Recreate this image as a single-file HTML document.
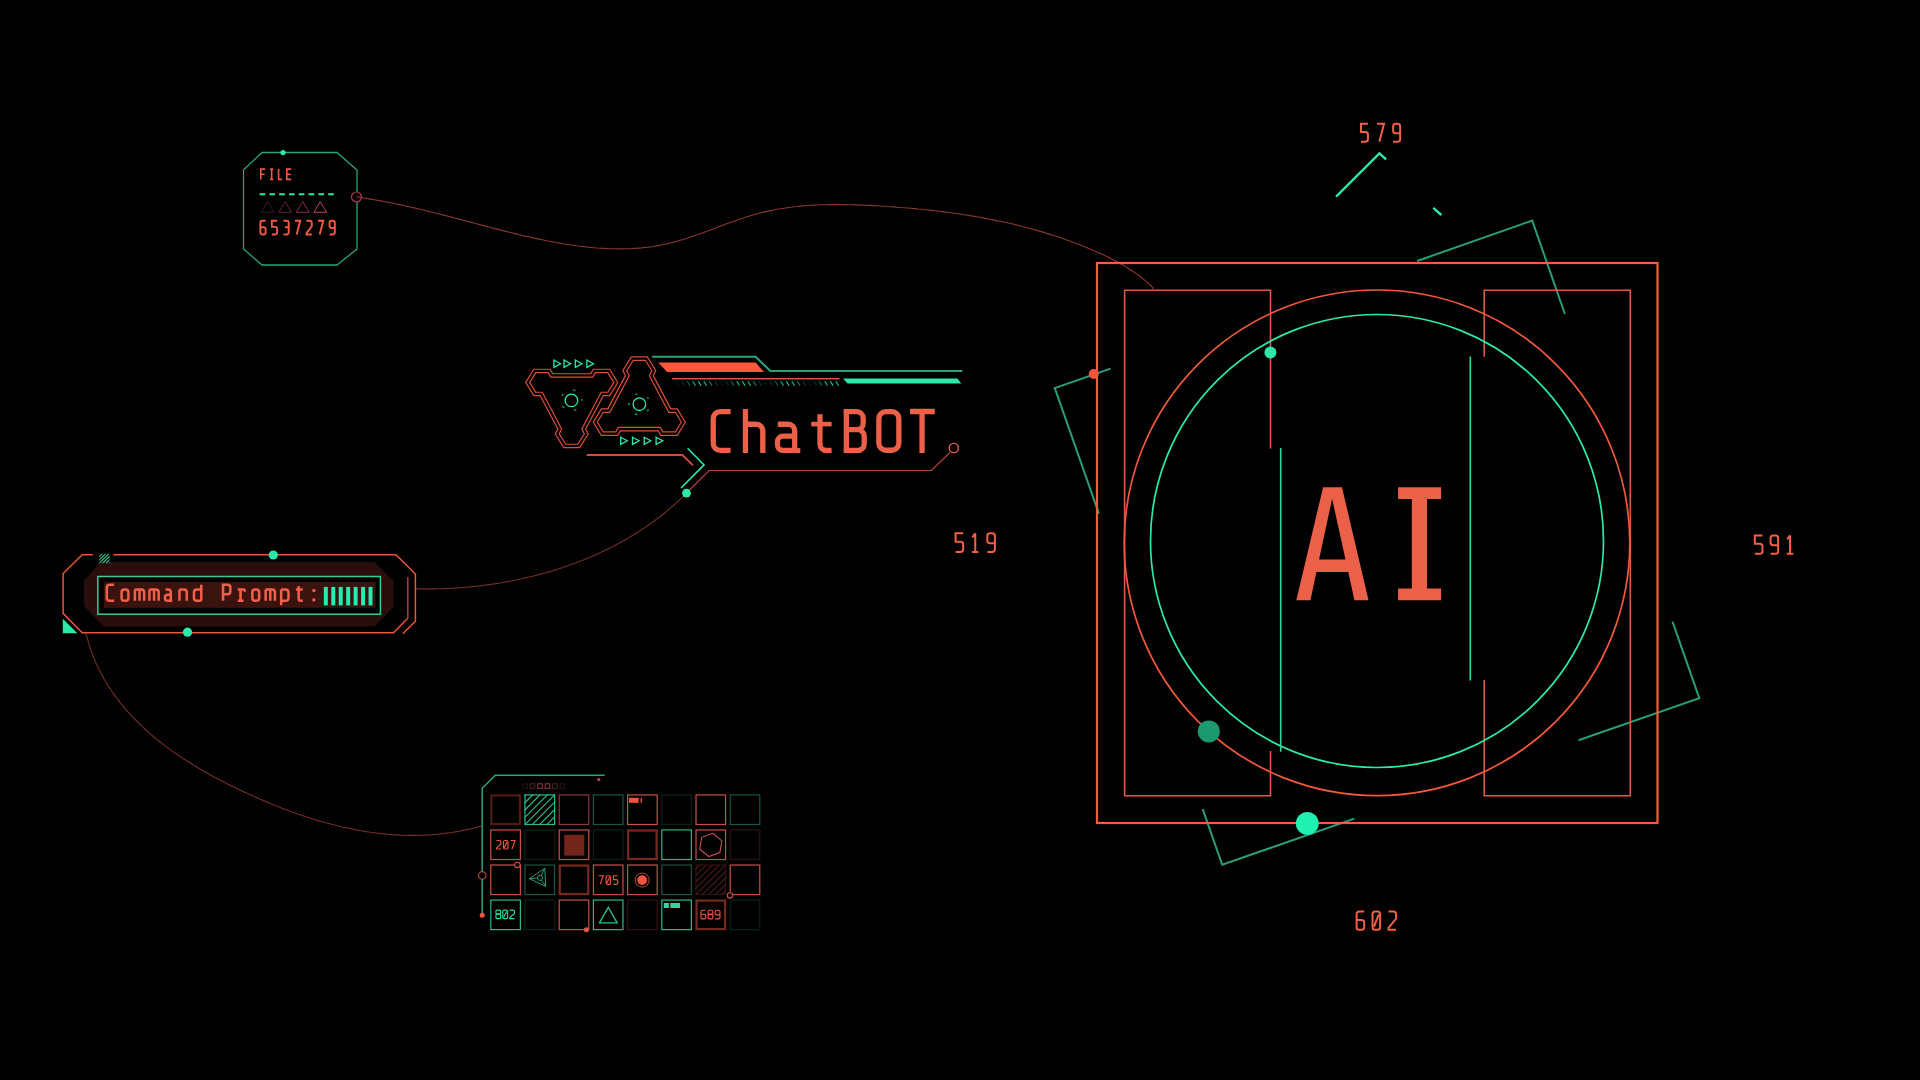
<!DOCTYPE html><html><head><meta charset="utf-8"><style>html,body{margin:0;padding:0;background:#000;width:1920px;height:1080px;overflow:hidden;}svg{position:absolute;left:0;top:0;display:block;}text{font-family:"Liberation Mono",monospace;white-space:pre;}</style></head><body>
<svg width="1920" height="1080" viewBox="0 0 1920 1080">
<rect width="1920" height="1080" fill="#000"/>
<g fill="none" stroke-width="1.1">
<path d="M357.0,197.0 L357.0,197.1 L360.4,197.5 L363.8,198.0 L367.2,198.6 L370.6,199.1 L374.0,199.7 L377.4,200.3 L380.8,200.9 L384.2,201.5 L387.6,202.2 L391.0,202.8 L394.3,203.5 L397.7,204.2 L401.1,204.9 L404.5,205.7 L407.8,206.4 L411.2,207.2 L414.5,207.9 L417.9,208.7 L421.2,209.5 L424.6,210.3 L427.9,211.2 L431.3,212.0 L434.6,212.8 L438.0,213.7 L441.3,214.5 L444.7,215.4 L448.0,216.2 L451.4,217.1 L454.7,218.0 L458.1,218.9 L461.4,219.8 L464.8,220.6 L468.1,221.5 L471.5,222.4 L474.8,223.3 L478.2,224.2 L481.5,225.1 L484.9,225.9 L488.2,226.8 L491.6,227.7 L494.9,228.6 L498.3,229.4 L501.7,230.3 L505.0,231.1 L508.4,232.0 L511.8,232.8 L515.2,233.6 L518.5,234.5 L521.9,235.3 L525.3,236.1 L528.7,236.8 L532.1,237.6 L535.5,238.4 L538.9,239.1 L542.3,239.8 L545.7,240.5 L549.1,241.2 L552.6,241.8 L556.0,242.5 L559.4,243.1 L562.8,243.7 L566.2,244.2 L569.6,244.8 L573.1,245.3 L576.5,245.8 L579.9,246.2 L583.3,246.6 L586.7,247.0 L590.1,247.4 L593.6,247.7 L597.0,248.0 L600.4,248.2 L603.8,248.4 L607.2,248.6 L610.6,248.7 L614.0,248.8 L617.4,248.9 L620.8,248.9 L624.2,248.8 L627.6,248.7 L631.0,248.6 L634.4,248.4 L637.8,248.2 L641.1,247.9 L644.5,247.5 L647.9,247.1 L651.3,246.7 L654.6,246.2 L658.0,245.6 L661.3,245.0 L664.6,244.3 L668.0,243.6 L671.3,242.8 L674.6,241.9 L677.9,241.0 L681.3,240.0 L684.6,239.0 L687.9,237.9 L691.2,236.8 L694.4,235.7 L697.7,234.6 L701.0,233.4 L704.3,232.2 L707.6,231.0 L710.9,229.7 L714.2,228.5 L717.4,227.3 L720.7,226.0 L724.0,224.8 L727.3,223.6 L730.6,222.4 L733.9,221.2 L737.2,220.0 L740.5,218.9 L743.8,217.8 L747.1,216.8 L750.4,215.7 L753.7,214.8 L757.0,213.8 L760.4,213.0 L763.7,212.1 L767.1,211.4 L770.4,210.6 L773.8,210.0 L777.1,209.3 L780.5,208.8 L783.9,208.2 L787.2,207.7 L790.6,207.3 L794.0,206.8 L797.4,206.5 L800.8,206.1 L804.2,205.8 L807.6,205.6 L811.0,205.3 L814.4,205.1 L817.9,205.0 L821.3,204.8 L824.7,204.7 L828.1,204.6 L831.6,204.6 L835.0,204.6 L838.4,204.6 L841.9,204.6 L845.3,204.6 L848.8,204.7 L852.2,204.8 L855.7,204.9 L859.1,205.0 L862.6,205.1 L866.0,205.3 L869.5,205.4 L873.0,205.6 L876.4,205.8 L879.9,206.0 L883.3,206.2 L886.8,206.5 L890.3,206.7 L893.7,206.9 L897.2,207.2 L900.7,207.5 L904.1,207.7 L907.6,208.0 L911.1,208.3 L914.5,208.6 L918.0,209.0 L921.4,209.3 L924.9,209.7 L928.4,210.0 L931.8,210.4 L935.3,210.8 L938.7,211.2 L942.2,211.6 L945.6,212.1 L949.1,212.5 L952.5,213.0 L956.0,213.5 L959.4,214.0 L962.8,214.5 L966.3,215.0 L969.7,215.6 L973.1,216.1 L976.5,216.7 L979.9,217.3 L983.4,217.9 L986.8,218.6 L990.2,219.2 L993.6,219.9 L996.9,220.6 L1000.3,221.3 L1003.7,222.0 L1007.1,222.8 L1010.5,223.5 L1013.8,224.3 L1017.2,225.1 L1020.5,226.0 L1023.9,226.8 L1027.2,227.7 L1030.5,228.6 L1033.8,229.5 L1037.2,230.4 L1040.5,231.4 L1043.8,232.4 L1047.0,233.4 L1050.3,234.4 L1053.6,235.4 L1056.9,236.5 L1060.1,237.6 L1063.4,238.7 L1066.6,239.9 L1069.8,241.0 L1073.1,242.2 L1076.3,243.5 L1079.5,244.7 L1082.7,246.0 L1085.8,247.3 L1089.0,248.6 L1092.2,249.9 L1095.3,251.3 L1098.4,252.7 L1101.6,254.1 L1104.7,255.6 L1107.8,257.1 L1110.8,258.6 L1113.9,260.2 L1116.9,261.8 L1119.9,263.4 L1122.9,265.1 L1125.9,266.9 L1128.8,268.7 L1131.7,270.5 L1134.5,272.5 L1137.3,274.4 L1140.1,276.5 L1142.8,278.6 L1145.4,280.8 L1148.0,283.1 L1150.6,285.5 L1153.1,287.9 L1152.2,288.8" stroke="#8a382e"/>
<path d="M415.5,588.0 L415.7,588.8 L416.9,588.8 L418.1,588.9 L419.3,588.9 L420.5,588.9 L421.7,588.9 L422.9,588.9 L424.1,588.9 L425.3,588.9 L426.6,588.9 L427.8,588.9 L429.0,588.9 L430.2,588.9 L431.4,588.9 L432.6,588.9 L433.9,588.9 L435.1,588.9 L436.3,588.8 L437.5,588.8 L438.7,588.8 L440.0,588.8 L441.2,588.7 L442.4,588.7 L443.6,588.6 L444.8,588.6 L446.1,588.5 L447.3,588.5 L448.5,588.4 L449.7,588.4 L451.0,588.3 L452.2,588.2 L453.4,588.2 L454.7,588.1 L455.9,588.0 L457.1,587.9 L458.3,587.8 L459.6,587.8 L460.8,587.7 L462.0,587.6 L463.2,587.5 L464.5,587.4 L465.7,587.3 L466.9,587.2 L468.2,587.1 L469.4,586.9 L470.6,586.8 L471.8,586.7 L473.1,586.6 L474.3,586.4 L475.5,586.3 L476.8,586.2 L478.0,586.0 L479.2,585.9 L480.5,585.8 L481.7,585.6 L482.9,585.5 L484.1,585.3 L485.4,585.1 L486.6,585.0 L487.8,584.8 L489.1,584.6 L490.3,584.5 L491.5,584.3 L492.7,584.1 L494.0,583.9 L495.2,583.7 L496.4,583.5 L497.6,583.4 L498.9,583.2 L500.1,583.0 L501.3,582.7 L502.5,582.5 L503.8,582.3 L505.0,582.1 L506.2,581.9 L507.4,581.7 L508.7,581.4 L509.9,581.2 L511.1,581.0 L512.3,580.7 L513.5,580.5 L514.8,580.3 L516.0,580.0 L517.2,579.8 L518.4,579.5 L519.6,579.2 L520.9,579.0 L522.1,578.7 L523.3,578.4 L524.5,578.2 L525.7,577.9 L526.9,577.6 L528.1,577.3 L529.3,577.0 L530.6,576.7 L531.8,576.5 L533.0,576.2 L534.2,575.9 L535.4,575.5 L536.6,575.2 L537.8,574.9 L539.0,574.6 L540.2,574.3 L541.4,574.0 L542.6,573.6 L543.8,573.3 L545.0,573.0 L546.2,572.6 L547.4,572.3 L548.6,571.9 L549.8,571.6 L551.0,571.2 L552.2,570.9 L553.3,570.5 L554.5,570.1 L555.7,569.8 L556.9,569.4 L558.1,569.0 L559.3,568.6 L560.5,568.3 L561.6,567.9 L562.8,567.5 L564.0,567.1 L565.2,566.7 L566.3,566.3 L567.5,565.9 L568.7,565.5 L569.9,565.0 L571.0,564.6 L572.2,564.2 L573.4,563.8 L574.5,563.3 L575.7,562.9 L576.8,562.5 L578.0,562.0 L579.2,561.6 L580.3,561.1 L581.5,560.7 L582.6,560.2 L583.8,559.8 L584.9,559.3 L586.1,558.8 L587.2,558.3 L588.4,557.9 L589.5,557.4 L590.6,556.9 L591.8,556.4 L592.9,555.9 L594.0,555.4 L595.2,554.9 L596.3,554.4 L597.4,553.9 L598.6,553.4 L599.7,552.9 L600.8,552.4 L601.9,551.8 L603.0,551.3 L604.2,550.8 L605.3,550.2 L606.4,549.7 L607.5,549.2 L608.6,548.6 L609.7,548.1 L610.8,547.5 L611.9,546.9 L613.0,546.4 L614.1,545.8 L615.2,545.2 L616.3,544.7 L617.4,544.1 L618.4,543.5 L619.5,542.9 L620.6,542.3 L621.7,541.7 L622.8,541.1 L623.8,540.5 L624.9,539.9 L626.0,539.3 L627.1,538.7 L628.1,538.1 L629.2,537.4 L630.2,536.8 L631.3,536.2 L632.3,535.5 L633.4,534.9 L634.4,534.2 L635.5,533.6 L636.5,532.9 L637.6,532.3 L638.6,531.6 L639.6,531.0 L640.7,530.3 L641.7,529.6 L642.7,528.9 L643.8,528.2 L644.8,527.6 L645.8,526.9 L646.8,526.2 L647.8,525.5 L648.8,524.8 L649.8,524.1 L650.8,523.4 L651.8,522.6 L652.8,521.9 L653.8,521.2 L654.8,520.5 L655.8,519.7 L656.8,519.0 L657.8,518.3 L658.8,517.5 L659.7,516.8 L660.7,516.0 L661.7,515.2 L662.6,514.5 L663.6,513.7 L664.6,512.9 L665.5,512.2 L666.5,511.4 L667.4,510.6 L668.4,509.8 L669.3,509.0 L670.3,508.2 L671.2,507.4 L672.1,506.6 L673.1,505.8 L674.0,505.0 L674.9,504.2 L675.8,503.4 L676.7,502.5 L677.7,501.7 L678.6,500.9 L679.5,500.0 L680.4,499.2 L681.3,498.3 L682.2,497.5 L683.1,496.6 L683.9,495.8 L684.8,494.9 L685.7,494.0 L686.6,493.1 L686.5,493.0" stroke="#743026"/>
<path d="M86.7,632.5 L85.8,632.2 L86.2,634.3 L86.8,636.4 L87.3,638.4 L87.9,640.4 L88.4,642.4 L89.0,644.4 L89.7,646.4 L90.3,648.3 L91.0,650.3 L91.7,652.2 L92.4,654.1 L93.1,656.0 L93.9,657.9 L94.6,659.8 L95.4,661.6 L96.2,663.5 L97.1,665.3 L97.9,667.1 L98.8,668.9 L99.7,670.7 L100.6,672.5 L101.5,674.2 L102.5,676.0 L103.4,677.7 L104.4,679.5 L105.4,681.2 L106.4,682.9 L107.5,684.6 L108.5,686.2 L109.6,687.9 L110.7,689.5 L111.8,691.2 L112.9,692.8 L114.0,694.4 L115.2,696.0 L116.3,697.6 L117.5,699.2 L118.7,700.7 L119.9,702.3 L121.1,703.8 L122.4,705.3 L123.6,706.8 L124.9,708.3 L126.2,709.8 L127.5,711.3 L128.8,712.8 L130.1,714.2 L131.4,715.7 L132.8,717.1 L134.1,718.5 L135.5,719.9 L136.9,721.3 L138.3,722.7 L139.7,724.1 L141.1,725.4 L142.5,726.8 L144.0,728.1 L145.4,729.5 L146.9,730.8 L148.4,732.1 L149.8,733.4 L151.3,734.7 L152.8,736.0 L154.3,737.2 L155.9,738.5 L157.4,739.8 L158.9,741.0 L160.5,742.2 L162.0,743.4 L163.6,744.7 L165.2,745.9 L166.8,747.0 L168.3,748.2 L169.9,749.4 L171.6,750.6 L173.2,751.7 L174.8,752.9 L176.4,754.0 L178.1,755.1 L179.7,756.2 L181.4,757.4 L183.0,758.5 L184.7,759.5 L186.4,760.6 L188.1,761.7 L189.8,762.8 L191.5,763.8 L193.2,764.9 L194.9,765.9 L196.6,767.0 L198.3,768.0 L200.0,769.0 L201.8,770.0 L203.5,771.0 L205.3,772.0 L207.0,773.0 L208.8,774.0 L210.5,775.0 L212.3,775.9 L214.1,776.9 L215.9,777.9 L217.6,778.8 L219.4,779.7 L221.2,780.7 L223.0,781.6 L224.8,782.5 L226.6,783.4 L228.4,784.4 L230.2,785.3 L232.0,786.2 L233.9,787.0 L235.7,787.9 L237.5,788.8 L239.3,789.7 L241.2,790.5 L243.0,791.4 L244.8,792.3 L246.7,793.1 L248.5,794.0 L250.4,794.8 L252.2,795.6 L254.1,796.5 L255.9,797.3 L257.8,798.1 L259.6,798.9 L261.5,799.7 L263.3,800.5 L265.2,801.3 L267.1,802.1 L268.9,802.9 L270.8,803.7 L272.7,804.4 L274.5,805.2 L276.4,805.9 L278.3,806.7 L280.2,807.4 L282.0,808.2 L283.9,808.9 L285.8,809.6 L287.7,810.3 L289.6,811.0 L291.5,811.7 L293.4,812.4 L295.3,813.1 L297.2,813.7 L299.1,814.4 L301.0,815.1 L302.9,815.7 L304.8,816.3 L306.7,817.0 L308.6,817.6 L310.5,818.2 L312.4,818.8 L314.3,819.4 L316.2,820.0 L318.2,820.6 L320.1,821.1 L322.0,821.7 L323.9,822.2 L325.8,822.8 L327.8,823.3 L329.7,823.8 L331.6,824.3 L333.5,824.8 L335.5,825.3 L337.4,825.8 L339.3,826.3 L341.3,826.7 L343.2,827.2 L345.2,827.6 L347.1,828.0 L349.0,828.4 L351.0,828.8 L352.9,829.2 L354.9,829.6 L356.8,830.0 L358.8,830.4 L360.7,830.7 L362.7,831.0 L364.6,831.4 L366.6,831.7 L368.5,832.0 L370.5,832.3 L372.4,832.5 L374.4,832.8 L376.3,833.1 L378.3,833.3 L380.2,833.5 L382.2,833.7 L384.2,833.9 L386.1,834.1 L388.1,834.3 L390.1,834.5 L392.0,834.6 L394.0,834.8 L396.0,834.9 L397.9,835.0 L399.9,835.1 L401.9,835.2 L403.8,835.2 L405.8,835.3 L407.8,835.3 L409.7,835.4 L411.7,835.4 L413.7,835.4 L415.7,835.4 L417.6,835.3 L419.6,835.3 L421.6,835.2 L423.6,835.2 L425.5,835.1 L427.5,835.0 L429.5,834.9 L431.5,834.7 L433.4,834.6 L435.4,834.4 L437.4,834.2 L439.4,834.0 L441.4,833.8 L443.3,833.6 L445.3,833.4 L447.3,833.1 L449.3,832.8 L451.3,832.5 L453.2,832.2 L455.2,831.9 L457.2,831.6 L459.2,831.2 L461.2,830.8 L463.2,830.4 L465.1,830.0 L467.1,829.6 L469.1,829.2 L471.1,828.7 L473.1,828.2 L475.1,827.7 L477.0,827.2 L479.0,826.7 L481.0,826.1 L480.8,825.5" stroke="#743026"/>
</g>
<polygon points="262,152.5 337,152.5 357,170 357,249 337,265 262,265 243.5,249 243.5,170" fill="none" stroke="#2aa47e" stroke-width="1.3"/>
<circle cx="283" cy="152.6" r="2.6" fill="#2ee8a8"/>
<circle cx="356.5" cy="197" r="5" fill="#000" stroke="#b03a4c" stroke-width="1.2"/>
<line x1="356.5" y1="197" x2="361" y2="197" stroke="#b03a4c" stroke-width="1"/>
<g fill="none" stroke="#ee5a45" stroke-width="1.60" stroke-linejoin="miter"><path d="M265.20,169.10 L260.80,169.10 L260.80,179.40 M260.80,174.25 L264.54,174.25"/><path d="M271.67,169.10 L271.67,179.40 M270.07,169.10 L273.27,169.10 M270.07,179.40 L273.27,179.40"/><path d="M278.59,169.10 L278.59,179.40 L282.09,179.40"/><path d="M291.21,169.10 L286.81,169.10 L286.81,179.40 L291.21,179.40 M286.81,174.25 L290.68,174.25"/></g>
<line x1="259.6" y1="194.2" x2="334" y2="194.2" stroke="#2ee8a8" stroke-width="2" stroke-dasharray="5.6,4.2"/>
<polygon points="261.2,212.3 267.6,201.6 274.0,212.3" fill="none" stroke="#d0486a" stroke-width="1" stroke-opacity="0.3"/>
<polygon points="278.8,212.3 285.2,201.6 291.6,212.3" fill="none" stroke="#d0486a" stroke-width="1" stroke-opacity="0.45"/>
<polygon points="296.3,212.3 302.7,201.6 309.1,212.3" fill="none" stroke="#d0486a" stroke-width="1" stroke-opacity="0.65"/>
<polygon points="313.9,212.3 320.2,201.6 326.6,212.3" fill="none" stroke="#d0486a" stroke-width="1" stroke-opacity="0.9"/>
<g fill="none" stroke="#f05a45" stroke-width="1.90" stroke-linejoin="miter"><path d="M265.65,220.75 L262.55,220.75 Q260.35,220.75 260.35,222.95 L260.35,232.25 Q260.35,234.45 262.55,234.45 L263.45,234.45 Q265.65,234.45 265.65,232.25 L265.65,229.39 Q265.65,227.19 263.45,227.19 L260.35,227.19"/><path d="M277.18,220.75 L271.88,220.75 L271.88,226.91 L274.98,226.91 Q277.18,226.91 277.18,229.11 L277.18,232.25 Q277.18,234.45 274.98,234.45 L271.88,234.45"/><path d="M283.41,220.75 L286.51,220.75 Q288.71,220.75 288.71,222.95 L288.71,232.25 Q288.71,234.45 286.51,234.45 L283.41,234.45 M285.00,227.19 L288.71,227.19"/><path d="M294.94,220.75 L300.24,220.75 L296.64,234.45"/><path d="M306.47,220.75 L309.57,220.75 Q311.77,220.75 311.77,222.95 L311.77,226.23 L306.47,233.08 L306.47,234.45 L311.77,234.45"/><path d="M318.00,220.75 L323.30,220.75 L319.70,234.45"/><path d="M329.53,234.45 L332.63,234.45 Q334.83,234.45 334.83,232.25 L334.83,222.95 Q334.83,220.75 332.63,220.75 L331.73,220.75 Q329.53,220.75 329.53,222.95 L329.53,225.81 Q329.53,228.01 331.73,228.01 L334.83,228.01"/></g>
<path d="M527.75,382.45 L534.75,370.95 L549.25,370.95 L551.75,375.45 L591.75,375.45 L594.25,370.95 L608.75,370.95 L615.75,382.45 L608.75,393.95 L602.25,393.95 L583.75,428.95 L586.25,433.95 L578.75,445.95 L564.75,445.95 L557.25,433.95 L559.75,428.95 L541.25,393.95 L534.75,393.95 Z" fill="none" stroke="#dc4e3a" stroke-width="4.6" stroke-linejoin="miter"/>
<path d="M527.75,382.45 L534.75,370.95 L549.25,370.95 L551.75,375.45 L591.75,375.45 L594.25,370.95 L608.75,370.95 L615.75,382.45 L608.75,393.95 L602.25,393.95 L583.75,428.95 L586.25,433.95 L578.75,445.95 L564.75,445.95 L557.25,433.95 L559.75,428.95 L541.25,393.95 L534.75,393.95 Z" fill="none" stroke="#000" stroke-width="2.2" stroke-linejoin="miter"/>
<path d="M683.30,422.15 L676.30,433.65 L661.80,433.65 L659.30,429.15 L619.30,429.15 L616.80,433.65 L602.30,433.65 L595.30,422.15 L602.30,410.65 L608.80,410.65 L627.30,375.65 L624.80,370.65 L632.30,358.65 L646.30,358.65 L653.80,370.65 L651.30,375.65 L669.80,410.65 L676.30,410.65 Z" fill="none" stroke="#dc4e3a" stroke-width="4.6" stroke-linejoin="miter"/>
<path d="M683.30,422.15 L676.30,433.65 L661.80,433.65 L659.30,429.15 L619.30,429.15 L616.80,433.65 L602.30,433.65 L595.30,422.15 L602.30,410.65 L608.80,410.65 L627.30,375.65 L624.80,370.65 L632.30,358.65 L646.30,358.65 L653.80,370.65 L651.30,375.65 L669.80,410.65 L676.30,410.65 Z" fill="none" stroke="#000" stroke-width="2.2" stroke-linejoin="miter"/>
<circle cx="571.4" cy="400.4" r="6.3" fill="none" stroke="#2ee8a8" stroke-width="1.3"/>
<circle cx="571.4" cy="400.4" r="10.5" fill="none" stroke="#2aa47e" stroke-width="1.5" stroke-opacity="0.85" stroke-dasharray="2.4,10.795" stroke-dashoffset="1.2" transform="rotate(-4 571.4 400.4)"/>
<circle cx="639.4" cy="404.2" r="6.3" fill="none" stroke="#2ee8a8" stroke-width="1.3"/>
<circle cx="639.4" cy="404.2" r="10.5" fill="none" stroke="#2aa47e" stroke-width="1.5" stroke-opacity="0.85" stroke-dasharray="2.4,10.795" stroke-dashoffset="1.2" transform="rotate(-37 639.4 404.2)"/>
<polygon points="553.90,360.00 560.50,363.70 553.90,367.40" fill="none" stroke="#2ee8a8" stroke-width="1.3"/>
<polygon points="564.00,360.00 570.60,363.70 564.00,367.40" fill="none" stroke="#2ee8a8" stroke-width="1.3"/>
<polygon points="575.30,360.00 581.90,363.70 575.30,367.40" fill="none" stroke="#2ee8a8" stroke-width="1.3"/>
<polygon points="586.85,360.00 593.45,363.70 586.85,367.40" fill="none" stroke="#2ee8a8" stroke-width="1.3"/>
<polygon points="620.70,437.20 627.30,440.80 620.70,444.40" fill="none" stroke="#2ee8a8" stroke-width="1.3"/>
<polygon points="632.50,437.20 639.10,440.80 632.50,444.40" fill="none" stroke="#2ee8a8" stroke-width="1.3"/>
<polygon points="644.20,437.20 650.80,440.80 644.20,444.40" fill="none" stroke="#2ee8a8" stroke-width="1.3"/>
<polygon points="656.10,437.20 662.70,440.80 656.10,444.40" fill="none" stroke="#2ee8a8" stroke-width="1.3"/>
<polyline points="652.2,356.8 755.6,356.8 770.4,371 962.3,371" fill="none" stroke="#2aa47e" stroke-width="2"/>
<polygon points="658.1,362.5 755.6,362.5 764,371.9 667.2,371.9" fill="#fb573b"/>
<line x1="671.9" y1="378.7" x2="839.6" y2="378.7" stroke="#d9503e" stroke-width="1.6"/>
<polygon points="843.1,378.4 957.4,378.4 961.2,383.5 847.5,383.5" fill="#2ee8a8"/>
<line x1="676.25" y1="381.2" x2="679.05" y2="385.6" stroke="#2fc995" stroke-width="1.15" stroke-opacity="0.12"/>
<line x1="681.75" y1="381.2" x2="684.55" y2="385.6" stroke="#2fc995" stroke-width="1.15" stroke-opacity="0.22"/>
<line x1="687.25" y1="381.2" x2="690.05" y2="385.6" stroke="#2fc995" stroke-width="1.15" stroke-opacity="0.51"/>
<line x1="692.75" y1="381.2" x2="695.55" y2="385.6" stroke="#2fc995" stroke-width="1.15" stroke-opacity="0.82"/>
<line x1="698.25" y1="381.2" x2="701.05" y2="385.6" stroke="#2fc995" stroke-width="1.15" stroke-opacity="0.97"/>
<line x1="703.75" y1="381.2" x2="706.55" y2="385.6" stroke="#2fc995" stroke-width="1.15" stroke-opacity="0.87"/>
<line x1="709.25" y1="381.2" x2="712.05" y2="385.6" stroke="#2fc995" stroke-width="1.15" stroke-opacity="0.58"/>
<line x1="714.75" y1="381.2" x2="717.55" y2="385.6" stroke="#2fc995" stroke-width="1.15" stroke-opacity="0.27"/>
<line x1="720.25" y1="381.2" x2="723.05" y2="385.6" stroke="#2fc995" stroke-width="1.15" stroke-opacity="0.12"/>
<line x1="725.75" y1="381.2" x2="728.55" y2="385.6" stroke="#2fc995" stroke-width="1.15" stroke-opacity="0.22"/>
<line x1="731.25" y1="381.2" x2="734.05" y2="385.6" stroke="#2fc995" stroke-width="1.15" stroke-opacity="0.51"/>
<line x1="736.75" y1="381.2" x2="739.55" y2="385.6" stroke="#2fc995" stroke-width="1.15" stroke-opacity="0.82"/>
<line x1="742.25" y1="381.2" x2="745.05" y2="385.6" stroke="#2fc995" stroke-width="1.15" stroke-opacity="0.97"/>
<line x1="747.75" y1="381.2" x2="750.55" y2="385.6" stroke="#2fc995" stroke-width="1.15" stroke-opacity="0.87"/>
<line x1="753.25" y1="381.2" x2="756.05" y2="385.6" stroke="#2fc995" stroke-width="1.15" stroke-opacity="0.58"/>
<line x1="758.75" y1="381.2" x2="761.55" y2="385.6" stroke="#2fc995" stroke-width="1.15" stroke-opacity="0.27"/>
<line x1="764.25" y1="381.2" x2="767.05" y2="385.6" stroke="#2fc995" stroke-width="1.15" stroke-opacity="0.12"/>
<line x1="769.75" y1="381.2" x2="772.55" y2="385.6" stroke="#2fc995" stroke-width="1.15" stroke-opacity="0.22"/>
<line x1="775.25" y1="381.2" x2="778.05" y2="385.6" stroke="#2fc995" stroke-width="1.15" stroke-opacity="0.51"/>
<line x1="780.75" y1="381.2" x2="783.55" y2="385.6" stroke="#2fc995" stroke-width="1.15" stroke-opacity="0.82"/>
<line x1="786.25" y1="381.2" x2="789.05" y2="385.6" stroke="#2fc995" stroke-width="1.15" stroke-opacity="0.97"/>
<line x1="791.75" y1="381.2" x2="794.55" y2="385.6" stroke="#2fc995" stroke-width="1.15" stroke-opacity="0.87"/>
<line x1="797.25" y1="381.2" x2="800.05" y2="385.6" stroke="#2fc995" stroke-width="1.15" stroke-opacity="0.58"/>
<line x1="802.75" y1="381.2" x2="805.55" y2="385.6" stroke="#2fc995" stroke-width="1.15" stroke-opacity="0.27"/>
<line x1="808.25" y1="381.2" x2="811.05" y2="385.6" stroke="#2fc995" stroke-width="1.15" stroke-opacity="0.12"/>
<line x1="813.75" y1="381.2" x2="816.55" y2="385.6" stroke="#2fc995" stroke-width="1.15" stroke-opacity="0.22"/>
<line x1="819.25" y1="381.2" x2="822.05" y2="385.6" stroke="#2fc995" stroke-width="1.15" stroke-opacity="0.51"/>
<line x1="824.75" y1="381.2" x2="827.55" y2="385.6" stroke="#2fc995" stroke-width="1.15" stroke-opacity="0.82"/>
<line x1="830.25" y1="381.2" x2="833.05" y2="385.6" stroke="#2fc995" stroke-width="1.15" stroke-opacity="0.97"/>
<line x1="835.75" y1="381.2" x2="838.55" y2="385.6" stroke="#2fc995" stroke-width="1.15" stroke-opacity="0.87"/>
<polyline points="586.6,455 682.4,455 693,465.4" fill="none" stroke="#d44c3a" stroke-width="1.8"/>
<polyline points="687.6,448.2 704,464.9 681,488" fill="none" stroke="#2ee8a8" stroke-width="1.6"/>
<polyline points="686.5,493 709.1,470.5 931.3,470.5 950,452.5" fill="none" stroke="#b8443a" stroke-width="1.1"/>
<circle cx="953.8" cy="448" r="4.6" fill="#000" stroke="#e0604c" stroke-width="1.4"/>
<circle cx="686.5" cy="493.1" r="4.4" fill="#2ee8a8"/>
<g fill="none" stroke="#ea6049" stroke-width="5.3" stroke-linecap="butt" stroke-linejoin="miter">
<path d="M730.6,411.65 H720.25 A7,7 0 0 0 713.25,418.65 V443.45 A7,7 0 0 0 720.25,450.45 H730.6"/>
<path d="M745.45,409 V453.1 M745.45,424.25 H756.3 A6.5,6.5 0 0 1 762.8,430.75 V453.1"/>
<path d="M777.8,424.25 H788.2 A6.5,6.5 0 0 1 794.7,430.75 V453.1"/>
<path d="M792.5,450.6 H800.3" stroke-width="5"/>
<path d="M794.7,436.2 H783 A5.5,5.5 0 0 0 777.5,441.7 V445 A5.45,5.45 0 0 0 782.95,450.45 H794.7"/>
<path d="M811.2,424.1 H831.6" stroke-width="4.6"/>
<path d="M819.95,414.2 V443.95 A6.5,6.5 0 0 0 826.45,450.45 H831.6"/>
<path d="M846.35,409 V453.1 M843.6,411.65 H856.7 A6.5,6.5 0 0 1 863.2,418.15 V423.2 A6.5,6.5 0 0 1 856.7,429.7 H846.35 M846.35,429.7 H857.7 A6.5,6.5 0 0 1 864.2,436.2 V443.95 A6.5,6.5 0 0 1 857.7,450.45 H843.6"/>
<rect x="878.85" y="411.65" width="20" height="38.6" rx="7" ry="7"/>
<path d="M910,411.5 H934.8 M922.05,409 V453.1"/>
</g>
<polygon points="100.7,561.9 374.6,561.9 393.5,581.3 393.5,607 374.6,626.5 103.6,626.5 84,606 84,580.8" fill="#2a0e0b"/>
<rect x="97.8" y="576.5" width="282.6" height="37.7" fill="#000" stroke="#38c99a" stroke-width="1.5"/>
<rect x="104" y="582" width="271.5" height="25.8" fill="#3a130f"/>
<g fill="none" stroke="#f0604a" stroke-width="2.50" stroke-linejoin="miter"><path d="M114.10,584.65 L109.60,584.65 Q106.80,584.65 106.80,587.45 L106.80,598.05 Q106.80,600.85 109.60,600.85 L114.10,600.85"/><rect x="121.58" y="589.51" width="6.81" height="11.34" rx="2.80"/><path d="M134.88,589.51 L134.88,600.85 M134.88,589.51 L141.34,589.51 Q144.14,589.51 144.14,592.31 L144.14,600.85 M139.51,589.51 L139.51,600.85"/><path d="M149.41,589.51 L149.41,600.85 M149.41,589.51 L155.87,589.51 Q158.67,589.51 158.67,592.31 L158.67,600.85 M154.04,589.51 L154.04,600.85"/><path d="M165.50,589.51 L168.13,589.51 Q170.76,589.51 170.76,592.14 L170.76,600.85 M170.76,594.86 L167.72,594.86 Q164.92,594.86 164.92,597.66 L164.92,598.05 Q164.92,600.85 167.72,600.85 L170.76,600.85 M170.76,600.85 L172.22,600.85"/><path d="M179.45,589.51 L179.45,600.85 M179.45,589.51 L183.95,589.51 Q186.75,589.51 186.75,592.31 L186.75,600.85"/><path d="M201.28,584.65 L201.28,600.85 M201.28,589.51 L196.78,589.51 Q193.98,589.51 193.98,592.31 L193.98,598.05 Q193.98,600.85 196.78,600.85 L201.28,600.85"/><path d="M223.04,600.85 L223.04,584.65 L227.54,584.65 Q230.34,584.65 230.34,587.45 L230.34,591.57 Q230.34,594.37 227.54,594.37 L223.04,594.37"/><path d="M237.67,589.51 L243.64,589.51 Q244.77,589.51 244.77,590.64 L244.77,591.78 M240.51,589.51 L240.51,600.85 M237.67,600.85 L243.49,600.85"/><rect x="252.34" y="589.51" width="6.81" height="11.34" rx="2.80"/><path d="M265.65,589.51 L265.65,600.85 M265.65,589.51 L272.11,589.51 Q274.91,589.51 274.91,592.31 L274.91,600.85 M270.28,589.51 L270.28,600.85"/><path d="M281.16,589.51 L281.16,605.22 M281.16,589.51 L285.66,589.51 Q288.46,589.51 288.46,592.31 L288.46,598.05 Q288.46,600.85 285.66,600.85 L281.16,600.85"/><path d="M295.94,589.51 L302.75,589.51 M298.66,585.95 L298.66,598.81 Q298.66,600.85 300.70,600.85 L302.75,600.85"/><rect x="312.43" y="589.04" width="2.88" height="2.88" fill="#f0604a" stroke="none"/><rect x="312.43" y="598.44" width="2.88" height="2.88" fill="#f0604a" stroke="none"/></g>
<rect x="323.85" y="586.9" width="3.95" height="18.5" fill="#24eeb2"/>
<rect x="331.30" y="586.9" width="3.95" height="18.5" fill="#24eeb2"/>
<rect x="338.75" y="586.9" width="3.95" height="18.5" fill="#24eeb2"/>
<rect x="346.20" y="586.9" width="3.95" height="18.5" fill="#24eeb2"/>
<rect x="353.65" y="586.9" width="3.95" height="18.5" fill="#24eeb2"/>
<rect x="361.10" y="586.9" width="3.95" height="18.5" fill="#24eeb2"/>
<rect x="368.55" y="586.9" width="3.95" height="18.5" fill="#24eeb2"/>
<polyline points="92.9,554.8 82.2,554.8 63.1,573.5 63.1,613.4 82.2,632.8 393.5,632.8 407.8,618.3" fill="none" stroke="#e9553d" stroke-width="1.5"/>
<line x1="407.8" y1="618.5" x2="407.8" y2="577" stroke="#9a4a40" stroke-width="1.5"/>
<polyline points="113.3,554.8 396,554.8 415.4,574 415.4,621.2 402.8,633.8" fill="none" stroke="#e9553d" stroke-width="1.5"/>
<defs><clipPath id="stripclip"><rect x="99.2" y="553.6" width="10.4" height="9.8"/></clipPath></defs>
<g clip-path="url(#stripclip)" stroke="#3ac995" stroke-width="1.1">
<line x1="92.60" y1="563.4" x2="102.40" y2="553.6"/>
<line x1="95.90" y1="563.4" x2="105.70" y2="553.6"/>
<line x1="99.20" y1="563.4" x2="109.00" y2="553.6"/>
<line x1="102.50" y1="563.4" x2="112.30" y2="553.6"/>
<line x1="105.80" y1="563.4" x2="115.60" y2="553.6"/>
<line x1="109.10" y1="563.4" x2="118.90" y2="553.6"/>
<line x1="112.40" y1="563.4" x2="122.20" y2="553.6"/>
</g>
<polygon points="62.8,618.7 62.8,633.3 77.4,633.3" fill="#2ee8a8"/>
<circle cx="273.3" cy="555" r="4.6" fill="#2ee8a8"/>
<circle cx="187.5" cy="632.2" r="4.6" fill="#2ee8a8"/>
<rect x="491.30" y="795.40" width="28.60" height="28.60" fill="none" stroke="#4e1c14" stroke-width="2.2"/>
<rect x="525.02" y="794.92" width="29.55" height="29.55" fill="none" stroke="#2ab88a" stroke-width="1.2"/>
<rect x="559.23" y="794.92" width="29.55" height="29.55" fill="none" stroke="#8a3844" stroke-width="1.2"/>
<rect x="593.42" y="794.92" width="29.55" height="29.55" fill="none" stroke="#1a5444" stroke-width="1.2"/>
<rect x="627.62" y="794.92" width="29.55" height="29.55" fill="none" stroke="#c4524a" stroke-width="1.2"/>
<rect x="661.85" y="794.95" width="29.50" height="29.50" fill="none" stroke="#0a2018" stroke-width="1.3"/>
<rect x="696.02" y="794.92" width="29.55" height="29.55" fill="none" stroke="#c4524a" stroke-width="1.2"/>
<rect x="730.23" y="794.92" width="29.55" height="29.55" fill="none" stroke="#1a5444" stroke-width="1.2"/>
<rect x="490.82" y="829.97" width="29.55" height="29.55" fill="none" stroke="#c4524a" stroke-width="1.2"/>
<rect x="525.05" y="830.00" width="29.50" height="29.50" fill="none" stroke="#0a2018" stroke-width="1.3"/>
<rect x="559.23" y="829.97" width="29.55" height="29.55" fill="none" stroke="#c4524a" stroke-width="1.2"/>
<rect x="593.45" y="830.00" width="29.50" height="29.50" fill="none" stroke="#0a2018" stroke-width="1.3"/>
<rect x="628.15" y="830.50" width="28.50" height="28.50" fill="none" stroke="#74291f" stroke-width="2.3"/>
<rect x="661.83" y="829.97" width="29.55" height="29.55" fill="none" stroke="#2ab88a" stroke-width="1.2"/>
<rect x="696.02" y="829.97" width="29.55" height="29.55" fill="none" stroke="#c4524a" stroke-width="1.2"/>
<rect x="730.25" y="830.00" width="29.50" height="29.50" fill="none" stroke="#2a1210" stroke-width="1.3"/>
<rect x="490.82" y="865.02" width="29.55" height="29.55" fill="none" stroke="#c4524a" stroke-width="1.2"/>
<rect x="525.02" y="865.02" width="29.55" height="29.55" fill="none" stroke="#1a5444" stroke-width="1.2"/>
<rect x="559.75" y="865.55" width="28.50" height="28.50" fill="none" stroke="#74291f" stroke-width="2.3"/>
<rect x="593.42" y="865.02" width="29.55" height="29.55" fill="none" stroke="#c4524a" stroke-width="1.2"/>
<rect x="627.62" y="865.02" width="29.55" height="29.55" fill="none" stroke="#c4524a" stroke-width="1.2"/>
<rect x="661.83" y="865.02" width="29.55" height="29.55" fill="none" stroke="#1a5444" stroke-width="1.2"/>
<rect x="696.05" y="865.05" width="29.50" height="29.50" fill="none" stroke="#2a1210" stroke-width="1.3"/>
<rect x="730.23" y="865.02" width="29.55" height="29.55" fill="none" stroke="#c4524a" stroke-width="1.2"/>
<rect x="490.82" y="900.07" width="29.55" height="29.55" fill="none" stroke="#2ab88a" stroke-width="1.2"/>
<rect x="525.05" y="900.10" width="29.50" height="29.50" fill="none" stroke="#0a2018" stroke-width="1.3"/>
<rect x="559.23" y="900.07" width="29.55" height="29.55" fill="none" stroke="#c4524a" stroke-width="1.2"/>
<rect x="593.42" y="900.07" width="29.55" height="29.55" fill="none" stroke="#2ab88a" stroke-width="1.2"/>
<rect x="627.65" y="900.10" width="29.50" height="29.50" fill="none" stroke="#2a1210" stroke-width="1.3"/>
<rect x="661.83" y="900.07" width="29.55" height="29.55" fill="none" stroke="#2ab88a" stroke-width="1.2"/>
<rect x="696.55" y="900.60" width="28.50" height="28.50" fill="none" stroke="#74291f" stroke-width="2.3"/>
<rect x="730.25" y="900.10" width="29.50" height="29.50" fill="none" stroke="#0a2018" stroke-width="1.3"/>
<defs><clipPath id="c12"><rect x="524.40" y="794.30" width="30.80" height="30.80"/></clipPath>
<clipPath id="c37"><rect x="695.40" y="864.40" width="30.80" height="30.80"/></clipPath></defs>
<g clip-path="url(#c12)" stroke="#2fbf8e" stroke-width="1.1">
<line x1="487.90" y1="825.10" x2="518.70" y2="794.30"/>
<line x1="495.20" y1="825.10" x2="526.00" y2="794.30"/>
<line x1="502.50" y1="825.10" x2="533.30" y2="794.30"/>
<line x1="509.80" y1="825.10" x2="540.60" y2="794.30"/>
<line x1="517.10" y1="825.10" x2="547.90" y2="794.30"/>
<line x1="524.40" y1="825.10" x2="555.20" y2="794.30"/>
<line x1="531.70" y1="825.10" x2="562.50" y2="794.30"/>
<line x1="539.00" y1="825.10" x2="569.80" y2="794.30"/>
<line x1="546.30" y1="825.10" x2="577.10" y2="794.30"/>
<line x1="553.60" y1="825.10" x2="584.40" y2="794.30"/>
<line x1="560.90" y1="825.10" x2="591.70" y2="794.30"/>
<line x1="568.20" y1="825.10" x2="599.00" y2="794.30"/>
<line x1="575.50" y1="825.10" x2="606.30" y2="794.30"/>
<line x1="582.80" y1="825.10" x2="613.60" y2="794.30"/>
<line x1="590.10" y1="825.10" x2="620.90" y2="794.30"/>
</g>
<g clip-path="url(#c37)" stroke="#4a1c16" stroke-width="1.1">
<line x1="662.90" y1="895.20" x2="693.70" y2="864.40"/>
<line x1="669.40" y1="895.20" x2="700.20" y2="864.40"/>
<line x1="675.90" y1="895.20" x2="706.70" y2="864.40"/>
<line x1="682.40" y1="895.20" x2="713.20" y2="864.40"/>
<line x1="688.90" y1="895.20" x2="719.70" y2="864.40"/>
<line x1="695.40" y1="895.20" x2="726.20" y2="864.40"/>
<line x1="701.90" y1="895.20" x2="732.70" y2="864.40"/>
<line x1="708.40" y1="895.20" x2="739.20" y2="864.40"/>
<line x1="714.90" y1="895.20" x2="745.70" y2="864.40"/>
<line x1="721.40" y1="895.20" x2="752.20" y2="864.40"/>
<line x1="727.90" y1="895.20" x2="758.70" y2="864.40"/>
<line x1="734.40" y1="895.20" x2="765.20" y2="864.40"/>
<line x1="740.90" y1="895.20" x2="771.70" y2="864.40"/>
<line x1="747.40" y1="895.20" x2="778.20" y2="864.40"/>
<line x1="753.90" y1="895.20" x2="784.70" y2="864.40"/>
</g>
<rect x="629" y="797.8" width="9.7" height="5" fill="#f2553c"/>
<rect x="640.5" y="797.8" width="1.6" height="5" fill="#c04a4a"/>
<rect x="564.2" y="834.8" width="20.1" height="20.8" fill="#74251b"/>
<polygon points="712.85,833.28 721.89,840.86 719.84,852.48 708.75,856.52 699.71,848.94 701.76,837.32" fill="none" stroke="#c65058" stroke-width="1.1"/>
<circle cx="642.2" cy="880.1" r="4.9" fill="#f2553c"/>
<circle cx="642.2" cy="880.1" r="7" fill="none" stroke="#b84a40" stroke-width="1"/>
<polygon points="529.3,878.7 544.8,868.3 545.7,886.4" fill="none" stroke="#2a9a78" stroke-width="1"/>
<line x1="529.3" y1="878.7" x2="540.0" y2="877.8" stroke="#2a9a78" stroke-width="1"/>
<line x1="544.8" y1="868.3" x2="540.0" y2="877.8" stroke="#2a9a78" stroke-width="1"/>
<line x1="545.7" y1="886.4" x2="540.0" y2="877.8" stroke="#2a9a78" stroke-width="1"/>
<circle cx="540" cy="877.8" r="2.6" fill="#000" stroke="#2a9a78" stroke-width="1"/>
<polygon points="608.3,907.4 617.2,922.8 599.4,922.8" fill="none" stroke="#2fbf8e" stroke-width="1.3"/>
<rect x="663.8" y="903" width="5.1" height="5" fill="#2fd9a0"/>
<rect x="670.3" y="903" width="9.7" height="5" fill="#2fd9a0"/>
<g fill="none" stroke="#f0553f" stroke-width="1.15" stroke-linejoin="miter"><path d="M496.47,840.48 L499.52,840.48 Q500.92,840.48 500.92,841.88 L500.92,843.90 L496.47,848.17 L496.47,849.03 L500.92,849.03"/><path d="M507.17,841.84 L504.33,847.66"/><rect x="503.52" y="840.48" width="4.45" height="8.55" rx="1.40"/><path d="M510.57,840.48 L515.02,840.48 L512.00,849.03"/></g>
<g fill="none" stroke="#f0553f" stroke-width="1.15" stroke-linejoin="miter"><path d="M598.83,875.78 L603.18,875.78 L600.22,884.33"/><path d="M609.69,877.14 L606.91,882.96"/><rect x="606.12" y="875.78" width="4.35" height="8.55" rx="1.40"/><path d="M617.78,875.78 L613.43,875.78 L613.43,879.62 L616.38,879.62 Q617.78,879.62 617.78,881.02 L617.78,882.93 Q617.78,884.33 616.38,884.33 L613.43,884.33"/></g>
<g fill="none" stroke="#2fd9a0" stroke-width="1.15" stroke-linejoin="miter"><rect x="495.88" y="910.08" width="4.85" height="4.10" rx="1.40"/><rect x="495.88" y="914.18" width="4.85" height="4.45" rx="1.40"/><path d="M506.75,911.44 L503.65,917.26"/><rect x="502.77" y="910.08" width="4.85" height="8.55" rx="1.40"/><path d="M509.68,910.08 L513.12,910.08 Q514.52,910.08 514.52,911.48 L514.52,913.50 L509.68,917.77 L509.68,918.63 L514.52,918.63"/></g>
<g fill="none" stroke="#f0553f" stroke-width="1.15" stroke-linejoin="miter"><path d="M705.78,910.28 L702.33,910.28 Q700.93,910.28 700.93,911.68 L700.93,917.43 Q700.93,918.83 702.33,918.83 L704.38,918.83 Q705.78,918.83 705.78,917.43 L705.78,915.69 Q705.78,914.29 704.38,914.29 L700.93,914.29"/><rect x="708.03" y="910.28" width="4.85" height="4.10" rx="1.40"/><rect x="708.03" y="914.38" width="4.85" height="4.45" rx="1.40"/><path d="M715.13,918.83 L718.58,918.83 Q719.98,918.83 719.98,917.43 L719.98,911.68 Q719.98,910.28 718.58,910.28 L716.53,910.28 Q715.13,910.28 715.13,911.68 L715.13,913.41 Q715.13,914.81 716.53,914.81 L719.98,914.81"/></g>
<polyline points="604.6,775.3 495.3,775.3 482.2,788.3 482.2,915" fill="none" stroke="#2aa47e" stroke-width="1.5"/>
<circle cx="482.2" cy="875.4" r="3.7" fill="#000" stroke="#b04a44" stroke-width="1.2"/>
<circle cx="482.2" cy="915.2" r="2.5" fill="#f2553c"/>
<circle cx="598.8" cy="779.6" r="1.6" fill="#c04040"/>
<rect x="522.80" y="783.8" width="4.6" height="4.6" fill="none" stroke="#b04a50" stroke-width="1" stroke-opacity="0.25"/>
<rect x="530.25" y="783.8" width="4.6" height="4.6" fill="none" stroke="#b04a50" stroke-width="1" stroke-opacity="0.45"/>
<rect x="537.70" y="783.8" width="4.6" height="4.6" fill="none" stroke="#b04a50" stroke-width="1" stroke-opacity="0.80"/>
<rect x="545.15" y="783.8" width="4.6" height="4.6" fill="none" stroke="#b04a50" stroke-width="1" stroke-opacity="0.80"/>
<rect x="552.60" y="783.8" width="4.6" height="4.6" fill="none" stroke="#b04a50" stroke-width="1" stroke-opacity="0.45"/>
<rect x="560.05" y="783.8" width="4.6" height="4.6" fill="none" stroke="#b04a50" stroke-width="1" stroke-opacity="0.25"/>
<circle cx="517.4" cy="864.9" r="2.7" fill="#000" stroke="#c8524a" stroke-width="1.1"/>
<circle cx="730" cy="895.4" r="2.7" fill="#000" stroke="#c8524a" stroke-width="1.1"/>
<circle cx="586.4" cy="929.8" r="2.5" fill="#e2553f"/>
<polyline points="1417.1,261.0 1532.2,220.6 1564.9,314.0" fill="none" stroke="#2a9d7c" stroke-width="2"/>
<polyline points="1110.5,368.6 1054.8,388.1 1098.9,513.6" fill="none" stroke="#2a9d7c" stroke-width="2"/>
<polyline points="1672.5,621.6 1699.3,698.1 1578.5,740.3" fill="none" stroke="#2a9d7c" stroke-width="2"/>
<polyline points="1202.7,809.1 1222.2,864.8 1354.4,818.6" fill="none" stroke="#2a9d7c" stroke-width="2"/>
<rect x="1097" y="263" width="560.5" height="560" fill="none" stroke="#fb5a3e" stroke-width="2.2"/>
<polyline points="1270.5,448.5 1270.5,290.2 1124.6,290.2 1124.6,795.8 1270.5,795.8 1270.5,751" fill="none" stroke="#dc5a48" stroke-width="1.6"/>
<polyline points="1484.2,356.7 1484.2,290.2 1630.3,290.2 1630.3,795.8 1484.2,795.8 1484.2,680" fill="none" stroke="#dc5a48" stroke-width="1.6"/>
<circle cx="1377" cy="542.8" r="252.8" fill="none" stroke="#f2583f" stroke-width="1.7"/>
<circle cx="1377" cy="541" r="226.5" fill="none" stroke="#2ee8a8" stroke-width="1.7"/>
<line x1="1280.7" y1="448" x2="1280.7" y2="751.7" stroke="#2ed9a0" stroke-width="1.6"/>
<line x1="1470.3" y1="356.5" x2="1470.3" y2="680.4" stroke="#2ed9a0" stroke-width="1.6"/>
<circle cx="1093.7" cy="374" r="5" fill="#f4553c"/>
<circle cx="1270.4" cy="352.6" r="6" fill="#2ee8a8"/>
<circle cx="1208.8" cy="731.4" r="11" fill="#1b9a70"/>
<circle cx="1307.3" cy="823.4" r="11.4" fill="#1ff2b0"/>
<path fill-rule="evenodd" fill="#ea6049" d="M1296.3,600.2 L1323.1,487.2 L1342,487.2 L1368.5,600.2 L1354.4,600.2 L1348.3,572.1 L1316.4,572.1 L1310.5,600.2 Z M1319.1,559.5 L1332.1,498.7 L1345.5,559.5 Z"/>
<path fill="#ea6049" d="M1398.1,487.2 L1441.1,487.2 L1441.1,499 L1427,499 L1427,588.4 L1441.1,588.4 L1441.1,600.2 L1398.1,600.2 L1398.1,588.4 L1411.8,588.4 L1411.8,499 L1398.1,499 Z"/>
<polyline points="1336.1,196.7 1379.4,153.3 1386.1,159.4" fill="none" stroke="#2ee8a8" stroke-width="2.4"/>
<line x1="1433.3" y1="207.8" x2="1441.3" y2="215" stroke="#2ee8a8" stroke-width="2.4"/>
<g fill="none" stroke="#f0604a" stroke-width="2.00" stroke-linejoin="miter"><path d="M1367.95,123.80 L1360.95,123.80 L1360.95,131.90 L1365.35,131.90 Q1367.95,131.90 1367.95,134.50 L1367.95,139.20 Q1367.95,141.80 1365.35,141.80 L1360.95,141.80"/><path d="M1377.05,123.80 L1384.05,123.80 L1379.29,141.80"/><path d="M1393.15,141.80 L1397.55,141.80 Q1400.15,141.80 1400.15,139.20 L1400.15,126.40 Q1400.15,123.80 1397.55,123.80 L1395.75,123.80 Q1393.15,123.80 1393.15,126.40 L1393.15,130.74 Q1393.15,133.34 1395.75,133.34 L1400.15,133.34"/></g>
<g fill="none" stroke="#f0604a" stroke-width="2.00" stroke-linejoin="miter"><path d="M963.20,533.30 L955.60,533.30 L955.60,541.67 L960.60,541.67 Q963.20,541.67 963.20,544.27 L963.20,549.30 Q963.20,551.90 960.60,551.90 L955.60,551.90"/><path d="M972.40,537.39 L975.25,533.30 M975.25,533.30 L975.25,551.90 M972.05,551.90 L978.45,551.90"/><path d="M987.30,551.90 L992.30,551.90 Q994.90,551.90 994.90,549.30 L994.90,535.90 Q994.90,533.30 992.30,533.30 L989.90,533.30 Q987.30,533.30 987.30,535.90 L987.30,540.56 Q987.30,543.16 989.90,543.16 L994.90,543.16"/></g>
<g fill="none" stroke="#f0604a" stroke-width="2.00" stroke-linejoin="miter"><path d="M1762.45,535.40 L1754.85,535.40 L1754.85,543.68 L1759.85,543.68 Q1762.45,543.68 1762.45,546.28 L1762.45,551.20 Q1762.45,553.80 1759.85,553.80 L1754.85,553.80"/><path d="M1770.55,553.80 L1775.55,553.80 Q1778.15,553.80 1778.15,551.20 L1778.15,538.00 Q1778.15,535.40 1775.55,535.40 L1773.15,535.40 Q1770.55,535.40 1770.55,538.00 L1770.55,542.55 Q1770.55,545.15 1773.15,545.15 L1778.15,545.15"/><path d="M1787.20,539.45 L1790.05,535.40 M1790.05,535.40 L1790.05,553.80 M1786.85,553.80 L1793.25,553.80"/></g>
<g fill="none" stroke="#f0604a" stroke-width="2.00" stroke-linejoin="miter"><path d="M1364.20,911.40 L1359.20,911.40 Q1356.60,911.40 1356.60,914.00 L1356.60,927.20 Q1356.60,929.80 1359.20,929.80 L1361.60,929.80 Q1364.20,929.80 1364.20,927.20 L1364.20,922.65 Q1364.20,920.05 1361.60,920.05 L1356.60,920.05"/><path d="M1378.78,914.34 L1373.92,926.86"/><rect x="1372.55" y="911.40" width="7.60" height="18.40" rx="2.60"/><path d="M1388.50,911.40 L1393.50,911.40 Q1396.10,911.40 1396.10,914.00 L1396.10,918.76 L1388.50,927.96 L1388.50,929.80 L1396.10,929.80"/></g>
</svg></body></html>
